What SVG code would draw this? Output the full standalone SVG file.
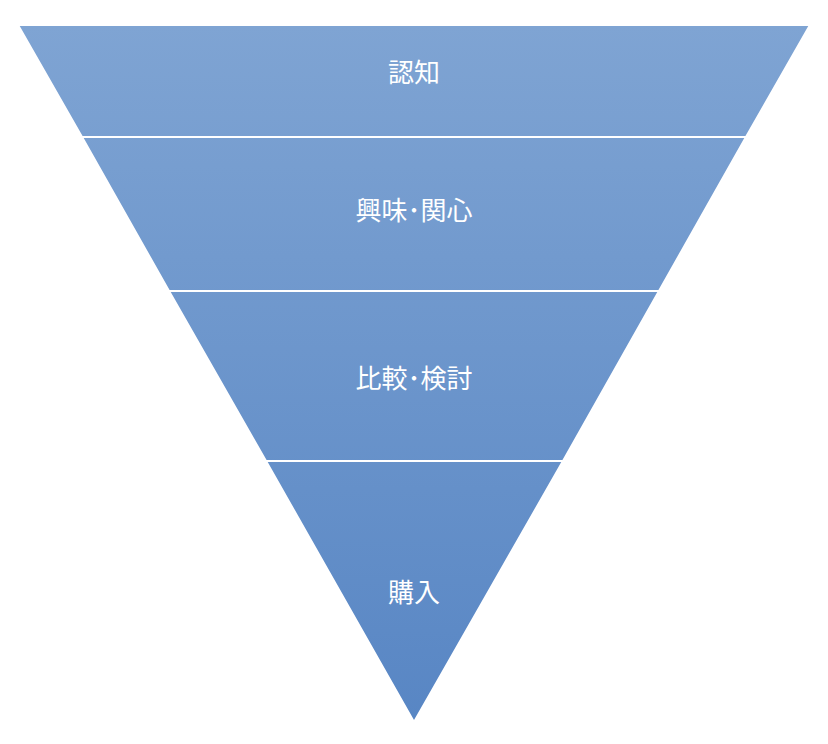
<svg xmlns="http://www.w3.org/2000/svg" width="828" height="744" viewBox="0 0 828 744">
<defs>
<linearGradient id="g" gradientUnits="userSpaceOnUse" x1="0" y1="25" x2="0" y2="722">
<stop offset="0" stop-color="#7fa4d3"/>
<stop offset="1" stop-color="#5886c4"/>
</linearGradient>
</defs>
<style>
.s{fill:url(#g);stroke:#ffffff;stroke-width:2}
.t{font-family:"Noto Sans CJK JP","Noto Sans",sans-serif;font-size:26px;fill:#ffffff;text-anchor:middle;dominant-baseline:central}
</style>
<rect width="828" height="744" fill="#ffffff"/>
<g id="tier1"><polygon class="s" points="18,25 810,25 746,137 82,137"/><text class="t" x="414" y="70">認知</text></g>
<g id="tier2"><polygon class="s" points="82,137 746,137 659,291 169,291"/><text class="t" x="414" y="208">興味･関心</text></g>
<g id="tier3"><polygon class="s" points="169,291 659,291 563,461 266,461"/><text class="t" x="414" y="376">比較･検討</text></g>
<g id="tier4"><polygon class="s" points="266,461 563,461 414,722"/><text class="t" x="414" y="590">購入</text></g>
<g id="connectors"></g>
</svg>
